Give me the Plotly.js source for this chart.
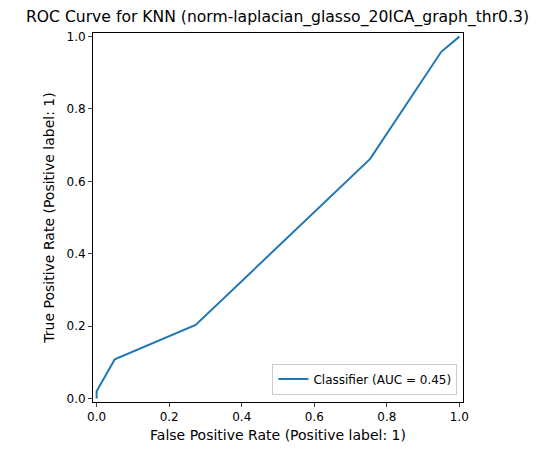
<!DOCTYPE html>
<html>
<head>
<script src="https://cdn.plot.ly/plotly-3.0.1.min.js"></script>
<style>body{margin:0}</style>
</head>
<body>
<div id="plotDiv" style="width:555px;height:455px"></div>
<script>
const fpr = [0, 0, 0.05, 0.273, 0.754, 0.95, 1]
const tpr = [0, 0.02, 0.108, 0.203, 0.662, 0.958, 1]
const ticks = [0, 0.2, 0.4, 0.6, 0.8, 1.0]
const tickText = ['0.0', '0.2', '0.4', '0.6', '0.8', '1.0']

const axis = {
	range: [-0.01, 1.01],
	tickvals: ticks,
	ticktext: tickText,
	ticks: 'outside',
	ticklen: 4,
	showgrid: false,
	zeroline: false,
	showline: true,
	mirror: true,
	linecolor: '#000',
	linewidth: 1,
	tickfont: {size: 12}
}

const data = [{
	x: fpr,
	y: tpr,
	type: 'scatter',
	mode: 'lines',
	name: 'Classifier (AUC = 0.45)',
	line: {color: '#1f77b4', width: 2}
}]

const layout = {
	width: 555,
	height: 455,
	font: {family: 'DejaVu Sans', size: 12, color: '#000'},
	title: {text: 'ROC Curve for KNN (norm-laplacian_glasso_20ICA_graph_thr0.3)', font: {size: 15.6}, x: 0.5, y: 0.975},
	margin: {l: 93, r: 92, t: 33, b: 53},
	xaxis: {...axis, title: {text: 'False Positive Rate (Positive label: 1)', standoff: 6}},
	yaxis: {...axis, title: {text: 'True Positive Rate (Positive label: 1)', standoff: 8}},
	showlegend: true,
	legend: {x: 0.985, y: 0.02, xanchor: 'right', yanchor: 'bottom', bordercolor: '#ccc', borderwidth: 1, bgcolor: 'rgba(255,255,255,0.8)'},
	plot_bgcolor: '#fff',
	paper_bgcolor: '#fff'
}

Plotly.newPlot('plotDiv', data, layout, {displayModeBar: false})
</script>
</body>
</html>
